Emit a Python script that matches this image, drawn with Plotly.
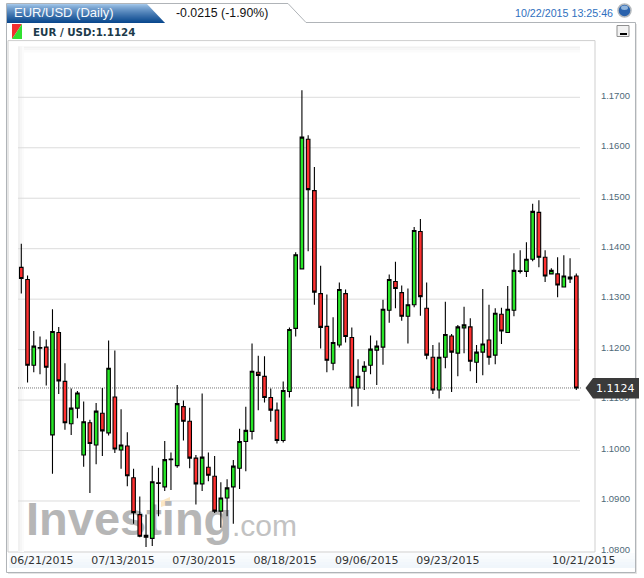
import plotly.graph_objects as go

opens = [1.1363,1.1339,1.1169,1.1204,1.1205,1.1031,1.1234,1.1137,1.1053,1.1084,
         1.0991,1.1055,1.1011,1.1074,1.1035,1.1106,1.1001,1.1009,1.0946,1.0873,
         1.0832,1.0826,1.0936,1.0928,1.0982,1.0970,1.1087,1.1058,1.0985,1.0934,
         1.0967,1.0949,1.0880,1.0906,1.0928,1.0965,1.1018,1.1038,1.1155,1.1147,
         1.1105,1.1080,1.1020,1.1117,1.1242,1.1360,1.1617,1.1515,1.1311,1.1246,
         1.1173,1.1209,1.1311,1.1224,1.1124,1.1157,1.1169,1.1199,1.1205,1.1278,
         1.1335,1.1313,1.1266,1.1289,1.1434,1.1282,1.1185,1.1120,1.1185,1.1227,
         1.1193,1.1243,1.1245,1.1175,1.1195,1.1219,1.1189,1.1270,1.1234,1.1278,
         1.1356,1.1355,1.1379,1.1472,1.1383,1.1350,1.1350,1.1324,1.1344,1.1346]
closes = [1.1341,1.1169,1.1207,1.1203,1.1165,1.1236,1.1138,1.1055,1.1084,1.1114,
          1.1057,1.1014,1.1078,1.1039,1.1163,1.1003,1.1011,1.0950,1.0877,1.0830,
          1.0828,1.0938,1.0935,1.0982,1.0983,1.1093,1.1058,1.0985,1.0934,1.0987,
          1.0951,1.0880,1.0906,1.0926,1.0969,1.1018,1.1040,1.1157,1.1149,1.1105,
          1.1080,1.1020,1.1119,1.1240,1.1388,1.1621,1.1517,1.1314,1.1244,1.1179,
          1.1214,1.1319,1.1226,1.1124,1.1147,1.1167,1.1201,1.1207,1.1280,1.1339,
          1.1321,1.1266,1.1289,1.1436,1.1305,1.1189,1.1120,1.1185,1.1230,1.1195,
          1.1245,1.1249,1.1177,1.1195,1.1211,1.1185,1.1272,1.1237,1.1280,1.1357,
          1.1355,1.1379,1.1474,1.1383,1.1346,1.1357,1.1328,1.1346,1.1340,1.1124]
highs = [1.1410,1.1347,1.1237,1.1226,1.1220,1.1280,1.1245,1.1173,1.1123,1.1118,
         1.1097,1.1061,1.1094,1.1124,1.1218,1.1198,1.1082,1.1036,1.0964,1.0909,
         1.0873,1.0970,1.0966,1.1019,1.0996,1.1130,1.1099,1.1085,1.0991,1.1113,
         1.0996,1.0989,1.0937,1.0943,1.0981,1.1043,1.1087,1.1212,1.1188,1.1187,
         1.1123,1.1095,1.1137,1.1244,1.1393,1.1714,1.1625,1.1562,1.1366,1.1309,
         1.1264,1.1333,1.1319,1.1244,1.1181,1.1177,1.1228,1.1218,1.1299,1.1349,
         1.1374,1.1327,1.1321,1.1443,1.1459,1.1333,1.1209,1.1214,1.1295,1.1231,
         1.1249,1.1285,1.1262,1.1209,1.1320,1.1289,1.1282,1.1283,1.1326,1.1391,
         1.1397,1.1413,1.1489,1.1496,1.1397,1.1361,1.1383,1.1387,1.1381,1.1351]
lows = [1.1311,1.1135,1.1155,1.1151,1.1129,1.0954,1.1112,1.1041,1.1031,1.1064,
        1.0968,1.0916,1.0973,1.0989,1.1030,1.0995,1.0964,1.0929,1.0855,1.0828,
        1.0809,1.0811,1.0870,1.0920,1.0922,1.0966,1.1020,1.0965,1.0893,1.0920,
        1.0939,1.0876,1.0847,1.0870,1.0855,1.0924,1.0959,1.1022,1.1080,1.1095,
        1.1057,1.1014,1.1016,1.1105,1.1226,1.1360,1.1395,1.1289,1.1202,1.1155,
        1.1159,1.1204,1.1214,1.1087,1.1088,1.1120,1.1151,1.1130,1.1170,1.1253,
        1.1282,1.1257,1.1212,1.1284,1.1267,1.1181,1.1112,1.1103,1.1163,1.1116,
        1.1147,1.1193,1.1157,1.1134,1.1149,1.1170,1.1171,1.1211,1.1233,1.1266,
        1.1351,1.1344,1.1375,1.1363,1.1334,1.1349,1.1304,1.1324,1.1332,1.1120]

y_ticks = [1.08, 1.09, 1.10, 1.11, 1.12, 1.13, 1.14, 1.15, 1.16, 1.17]
date_labels = ["06/21/2015", "07/13/2015", "07/30/2015", "08/18/2015",
               "09/06/2015", "09/23/2015", "10/21/2015"]
date_positions = [3.3, 16.3, 29.3, 42.3, 55.4, 68.4, 90.2]
last_price = 1.1124

W, H = 644, 578
def X(p): return p / W
def Y(p): return 1 - p / H

L, R, T, B = 8, 595, 40.6, 552
STEP = 6.236
X0 = 21.3
xrange = [(L - X0) / STEP, (R - X0) / STEP]
PXPER = 5045.0
yrange = [1.09 - (B - 501) / PXPER, 1.17 + (97.3 - T) / PXPER]

shapes = []
def rect(x0, y0, x1, y1, fill=None, line=None, lw=1, layer="below"):
    shapes.append(dict(type="rect", xref="paper", yref="paper", x0=X(x0), x1=X(x1), y0=Y(y0), y1=Y(y1),
                       fillcolor=fill or "rgba(0,0,0,0)", layer=layer,
                       line=dict(color=line or "rgba(0,0,0,0)", width=lw if line else 0)))
def poly(pts, fill, line=None, lw=1, layer="below"):
    d = "M " + " L ".join(f"{X(a):.5f},{Y(b):.5f}" for a, b in pts) + " Z"
    shapes.append(dict(type="path", xref="paper", yref="paper", path=d, fillcolor=fill, layer=layer,
                       line=dict(color=line or "rgba(0,0,0,0)", width=lw if line else 0)))

# soft shadow, outer frame + tab
rect(8, 24, 637, 574, "#e4e4e4")
poly([(6.5, 3.5), (288, 3.5), (306, 22.5), (635.5, 22.5), (635.5, 572.5), (6.5, 572.5)], "#ffffff", "#b0b4b8", 1)
rect(8, 40.6, 595, 552, "#ffffff", "#cfcfcf", 1)
# blue tab gradient
c0, c1 = (160, 196, 232), (10, 72, 142)
n = 19
for i in range(n):
    t = (i / (n - 1)) ** 0.8
    col = "rgb(%d,%d,%d)" % tuple(round(a + (b - a) * t) for a, b in zip(c0, c1))
    y0, y1 = 4 + i, 5 + i
    poly([(7, y0), (147 + (y0 - 4) * 0.95, y0), (147 + (y1 - 4) * 0.95, y1), (7, y1)], col)
# icon
poly([(12, 24), (22, 24), (12, 39)], "#f03030")
poly([(22, 24), (22, 39), (12, 39)], "#30e030")
# plot-area faint fades
for off, col in [(0, "#f1f1f1"), (2, "#f6f6f6"), (4, "#fbfbfb")]:
    rect(18 + off, 46.5, 20 + off, 552, col)
    rect(18 + off, 46.5 + off, 580, 48.5 + off, col)
# x label strip
for i, col in enumerate(["#fafcfe", "#f8fbfd", "#f5f9fc", "#f2f7fc", "#f0f6fb"]):
    rect(9, 553 + i * 3, 635, 556 + i * 3, col)
# gridlines
for v in y_ticks[1:]:
    shapes.append(dict(type="line", xref="paper", yref="y2", x0=X(18), x1=X(580), y0=v, y1=v,
                       layer="below", line=dict(color="#dcdcdc", width=1)))
# watermark accent
poly([(161, 501), (170, 497), (170, 504), (161, 507)], "#fbe7c4")
# last-price dotted line
shapes.append(dict(type="line", xref="paper", yref="y2", x0=X(18), x1=X(581), y0=last_price, y1=last_price,
                   layer="below", line=dict(color="#777777", width=1, dash="1px,1px")))
# price tag
poly([(585.5, 388), (593, 378), (639, 378), (639, 398.5), (593, 398.5)], "#3a3a3a", layer="above")
# globe + minimise button
shapes.append(dict(type="circle", xref="paper", yref="paper", x0=X(618), x1=X(631), y0=Y(4), y1=Y(17),
                   fillcolor="#2a62ac", line=dict(color="#b5b9bd", width=1.5), layer="above"))
shapes.append(dict(type="circle", xref="paper", yref="paper", x0=X(621), x1=X(628), y0=Y(5.5), y1=Y(10),
                   fillcolor="#8fb4dc", line=dict(width=0), layer="above"))
rect(617, 25.5, 629, 36.5, "#f2f2f2", "#8f8f8f", 1, layer="above")
rect(620, 33, 627, 35, "#000000", layer="above")

def txt(s, x, y, size, color, family, anchor="left"):
    return dict(text=s, x=X(x), y=Y(y), xref="paper", yref="paper", showarrow=False, xanchor=anchor,
                yanchor="middle", borderpad=0, font=dict(size=size, color=color, family=family))

annotations = [
    txt("EUR/USD (Daily)", 12.5, 12.5, 13, "#f6f9fc", "Liberation Sans"),
    txt("-0.0215 (-1.90%)", 175, 12.5, 12.3, "#111111", "Liberation Sans"),
    txt("10/22/2015 13:25:46", 513.5, 12.5, 10.7, "#2f6fbe", "Liberation Sans"),
    txt("<b>EUR / USD:1.1124</b>", 31.5, 31.5, 10.3, "#1c3a4a", "DejaVu Sans, sans-serif"),
    txt("1.1124", 595, 388.5, 11, "#ffffff", "DejaVu Sans"),
]

fig = go.Figure()
# watermark sits on the base axes so the candles overlay it
fig.add_trace(go.Scatter(x=[26], y=[523], mode="text", text=["<b>Investing</b>"], textposition="middle right",
                         textfont=dict(size=47, color="#b6b6b6", family="Liberation Sans"),
                         hoverinfo="skip", showlegend=False))
fig.add_trace(go.Scatter(x=[232], y=[529], mode="text", text=[".com"], textposition="middle right",
                         textfont=dict(size=30, color="#c2c2c2", family="Liberation Sans"),
                         hoverinfo="skip", showlegend=False))
fig.add_trace(go.Candlestick(
    x=list(range(len(opens))), open=opens, high=highs, low=lows, close=closes,
    xaxis="x2", yaxis="y2", whiskerwidth=0, showlegend=False,
    increasing=dict(line=dict(color="#000000", width=1.1), fillcolor="#27e627"),
    decreasing=dict(line=dict(color="#000000", width=1.1), fillcolor="#ff3030"),
))

fig.update_layout(
    width=W, height=H, margin=dict(l=0, r=0, t=0, b=0, autoexpand=False),
    paper_bgcolor="#ffffff", plot_bgcolor="rgba(0,0,0,0)",
    boxgap=0.18, showlegend=False, shapes=shapes, annotations=annotations,
    xaxis=dict(domain=[X(L), X(R)], range=[L, R], visible=False, fixedrange=True, automargin=False),
    yaxis=dict(domain=[Y(B), Y(T)], range=[B, T], visible=False, fixedrange=True, automargin=False),
    xaxis2=dict(overlaying="x", anchor="y2", side="bottom", range=xrange, tickmode="array",
                tickvals=date_positions, ticktext=date_labels, showgrid=False, zeroline=False,
                rangeslider=dict(visible=False), showline=False, automargin=False,
                ticks="",
                tickfont=dict(size=11, family="DejaVu Sans", color="#333333"), fixedrange=True),
    yaxis2=dict(overlaying="y", anchor="x2", side="right", range=yrange, tickmode="array",
                tickvals=y_ticks, ticktext=["%.4f" % v for v in y_ticks], showgrid=False, zeroline=False,
                showline=False, ticks="outside", ticklen=3, automargin=False, tickcolor="rgba(0,0,0,0)",
                ticklabelshift=-2,
                tickfont=dict(size=9.5, family="Liberation Sans", color="#4f6a78"), fixedrange=True),
)
fig.write_html("out.html", config=dict(displayModeBar=False),
               post_script="document.body.style.margin='0';document.body.style.overflow='hidden';")
